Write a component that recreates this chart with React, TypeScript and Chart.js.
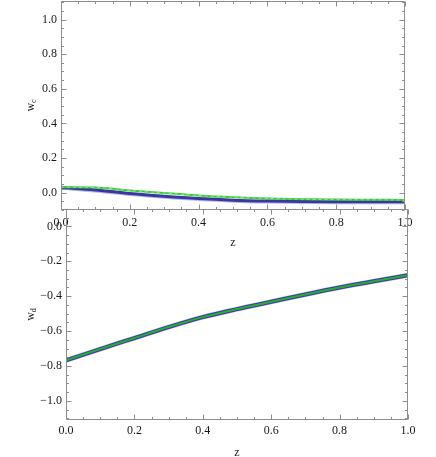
import React, { useEffect, useRef } from 'react';
import { Chart, registerables } from 'chart.js';
Chart.register(...registerables);

const zValues = [0, 0.1, 0.2, 0.3, 0.4, 0.5, 0.6, 0.7, 0.8, 0.9, 1.0];
const wcGreen = [0.032, 0.030, 0.013, -0.002, -0.016, -0.026, -0.033, -0.038, -0.040, -0.041, -0.042];
const wcBlue = [0.030, 0.016, -0.005, -0.021, -0.034, -0.043, -0.048, -0.051, -0.052, -0.052, -0.052];
const wcLavender = [0.025, 0.010, -0.011, -0.027, -0.040, -0.049, -0.054, -0.057, -0.058, -0.058, -0.058];
const wdBlue = [-0.768, -0.703, -0.640, -0.577, -0.520, -0.474, -0.432, -0.390, -0.350, -0.314, -0.280];
const wdGreen = [-0.768, -0.703, -0.640, -0.577, -0.520, -0.474, -0.432, -0.390, -0.350, -0.314, -0.280];
const xTicks = [0, 0.2, 0.4, 0.6, 0.8, 1.0];
const wcTicks = [0, 0.2, 0.4, 0.6, 0.8, 1.0];
const wdTicks = [-1.0, -0.8, -0.6, -0.4, -0.2, 0.0];

const FONT = '"Liberation Serif", "Times New Roman", serif';
const FRAME = '#8e8e8e';

const pts = (ys: number[]) => zValues.map((x, i) => ({ x, y: ys[i] }));

function fmt(v: number) {
  const s = Math.abs(v).toFixed(1);
  return v < -1e-9 ? '\u2212' + s : s;
}

function framePlugin(yTitleSub: string, yTitleX: number) {
  return {
    id: 'frame',
    afterDraw(chart: any) {
      const { ctx, chartArea: a, scales } = chart;
      const xs = scales.x;
      const ys = scales.y;
      const L = Math.round(a.left) + 0.5;
      const R = Math.round(a.right) - 0.5;
      const T = Math.round(a.top) + 0.5;
      const B = Math.round(a.bottom) - 0.5;
      ctx.save();
      ctx.strokeStyle = FRAME;
      ctx.lineWidth = 1;
      ctx.beginPath();
      ctx.rect(L, T, R - L, B - T);
      ctx.stroke();
      const step = 0.05;
      ctx.beginPath();
      const x0 = Math.ceil(xs.min / step - 1e-6);
      const x1 = Math.floor(xs.max / step + 1e-6);
      for (let k = x0; k <= x1; k++) {
        const v = k * step;
        const major = k % 4 === 0;
        const len = major ? 5 : 2.5;
        const px = Math.round(xs.getPixelForValue(v)) + 0.5;
        ctx.moveTo(px, B);
        ctx.lineTo(px, B - len);
        ctx.moveTo(px, T);
        ctx.lineTo(px, T + len);
      }
      const y0 = Math.ceil(ys.min / step - 1e-6);
      const y1 = Math.floor(ys.max / step + 1e-6);
      for (let k = y0; k <= y1; k++) {
        const v = k * step;
        const major = ((k % 4) + 4) % 4 === 0;
        const len = major ? 5 : 2.5;
        const py = Math.round(ys.getPixelForValue(v)) + 0.5;
        ctx.moveTo(L, py);
        ctx.lineTo(L + len, py);
        ctx.moveTo(R, py);
        ctx.lineTo(R - len, py);
      }
      ctx.stroke();
      ctx.fillStyle = '#1a1a1a';
      ctx.font = '12px ' + FONT;
      ctx.textAlign = 'center';
      ctx.textBaseline = 'middle';
      ctx.fillText('z', (a.left + a.right) / 2, a.bottom + 33);
      ctx.translate(yTitleX, (a.top + a.bottom) / 2);
      ctx.rotate(-Math.PI / 2);
      ctx.font = '12px ' + FONT;
      const ww = ctx.measureText('w').width;
      ctx.font = '8px ' + FONT;
      const sw = ctx.measureText(yTitleSub).width;
      const start = -(ww + sw) / 2;
      ctx.textAlign = 'left';
      ctx.font = '12px ' + FONT;
      ctx.fillText('w', start, 0);
      ctx.font = '8px ' + FONT;
      ctx.fillText(yTitleSub, start + ww, 3);
      ctx.restore();
    },
  };
}

function axisOpts(ticksArr: number[], min: number, max: number, isX: boolean, size: number, pad: number) {
  return {
    type: 'linear' as const,
    min,
    max,
    grid: { display: false, drawTicks: false },
    border: { display: false },
    afterBuildTicks: (s: any) => {
      s.ticks = ticksArr.map((value) => ({ value }));
    },
    afterFit: (s: any) => {
      if (isX) {
        s.height = size;
        s.paddingLeft = 0;
        s.paddingRight = 0;
      } else {
        s.width = size;
        s.paddingTop = 0;
        s.paddingBottom = 0;
      }
    },
    ticks: {
      autoSkip: false,
      maxRotation: 0,
      minRotation: 0,
      padding: pad,
      color: '#1a1a1a',
      font: { family: FONT, size: 12 },
      callback: (v: any) => fmt(Number(v)),
    },
  };
}

function line(data: number[], color: string, width: number, dash: number[] = []) {
  return {
    data: pts(data),
    borderColor: color,
    borderWidth: width,
    borderDash: dash,
    pointRadius: 0,
    fill: false,
    cubicInterpolationMode: 'monotone' as const,
    borderCapStyle: 'butt' as const,
  };
}

export default function App() {
  const c1 = useRef<HTMLCanvasElement>(null);
  const c2 = useRef<HTMLCanvasElement>(null);

  useEffect(() => {
    const ch1 = new Chart(c1.current!, {
      type: 'line',
      data: {
        datasets: [
          line(wcGreen, 'rgba(200,200,200,0.9)', 1, [3, 3]),
          line(wcGreen, 'rgb(40,215,40)', 2),
          line(wcBlue, 'rgb(58,56,158)', 3),
          line(wcLavender, 'rgba(150,150,225,0.7)', 3),
        ],
      },
      options: {
        responsive: false,
        animation: false,
        devicePixelRatio: 1,
        layout: { padding: { left: 0, right: 31, top: 1, bottom: 0 } },
        plugins: { legend: { display: false }, tooltip: { enabled: false } },
        scales: {
          x: axisOpts(xTicks, 0, 1, true, 40, 6),
          y: axisOpts(wcTicks, -0.1, 1.107, false, 61, 4),
        },
      },
      plugins: [framePlugin('c', 31)],
    });
    const ch2 = new Chart(c2.current!, {
      type: 'line',
      data: {
        datasets: [
          line(wdGreen, 'rgb(40,175,40)', 2),
          line(wdBlue, 'rgb(58,56,170)', 4),
          line(wdBlue, 'rgba(150,150,235,0.6)', 5),
        ],
      },
      options: {
        responsive: false,
        animation: false,
        devicePixelRatio: 1,
        layout: { padding: { left: 0, right: 28, top: 9, bottom: 0 } },
        plugins: { legend: { display: false }, tooltip: { enabled: false } },
        scales: {
          x: axisOpts(xTicks, 0, 1, true, 37, 4),
          y: axisOpts(wdTicks, -1.11, 0.1, false, 66, 4),
        },
      },
      plugins: [framePlugin('d', 31)],
    });
    return () => {
      ch1.destroy();
      ch2.destroy();
    };
  }, []);

  return (
    <div style={{ position: 'fixed', left: 0, top: 0, width: 436, height: 457, background: '#fff' }}>
      <canvas ref={c1} width={436} height={250} style={{ position: 'absolute', left: 0, top: 0, width: 436, height: 250 }} />
      <canvas ref={c2} width={436} height={257} style={{ position: 'absolute', left: 0, top: 200, width: 436, height: 257 }} />
    </div>
  );
}
